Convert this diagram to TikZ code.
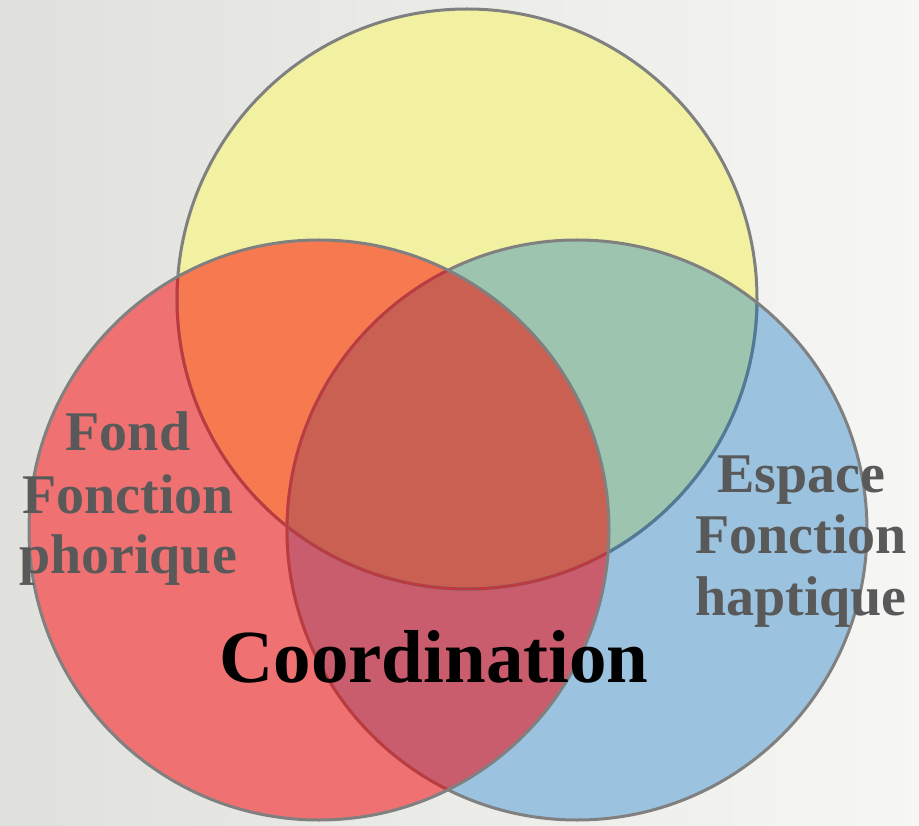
\documentclass[tikz,border=0pt]{standalone}
\usepackage{fontspec}
\setmainfont{Liberation Serif}
\definecolor{bgL}{RGB}{224,224,220}
\definecolor{bgR}{RGB}{246,246,244}
\definecolor{yel}{RGB}{241,241,161}
\definecolor{blu}{RGB}{155,194,222}
\definecolor{red1}{RGB}{240,113,113}
\definecolor{redyel}{RGB}{247,121,80}
\definecolor{yelblu}{RGB}{156,196,174}
\definecolor{redblu}{RGB}{202,93,109}
\definecolor{allthree}{RGB}{202,96,82}
\definecolor{edge}{RGB}{128,128,128}
\definecolor{edgered}{RGB}{190,58,62}
\definecolor{edgeblu}{RGB}{80,122,152}
\definecolor{labelgray}{RGB}{89,89,89}
\tikzset{
  ring/.style={draw=edge, line width=3pt},
  sidelabel/.style={anchor=base, text=labelgray, font=\fontsize{56}{62}\selectfont\bfseries, inner sep=0pt},
  mainlabel/.style={anchor=base, text=black, font=\fontsize{75}{80}\selectfont\bfseries, inner sep=0pt}
}
\begin{document}
\begin{tikzpicture}[x=1pt,y=-1pt]
  \useasboundingbox (0,0) rectangle (919,826);
  \shade[left color=bgL, right color=bgR] (0,0) rectangle (919,826);
  % circle centres
  \coordinate (cy) at (467,299);
  \coordinate (cr) at (319,530);
  \coordinate (cb) at (577,530);
  \def\R{290pt}
  % single fills
  \fill[yel] (cy) circle[radius=\R];
  \fill[blu] (cb) circle[radius=\R];
  \fill[red1] (cr) circle[radius=\R];
  % pairwise overlaps
  \begin{scope}
    \clip (cy) circle[radius=\R];
    \fill[yelblu] (cb) circle[radius=\R];
    \fill[redyel] (cr) circle[radius=\R];
  \end{scope}
  \begin{scope}
    \clip (cb) circle[radius=\R];
    \fill[redblu] (cr) circle[radius=\R];
    \clip (cy) circle[radius=\R];
    \fill[allthree] (cr) circle[radius=\R];
  \end{scope}
  % outlines: yellow
  \draw[ring] (cy) circle[radius=\R];
  \begin{scope}
    \clip (cb) circle[radius=\R];
    \draw[ring, draw=edgeblu] (cy) circle[radius=\R];
  \end{scope}
  \begin{scope}
    \clip (cr) circle[radius=\R];
    \draw[ring, draw=edgered] (cy) circle[radius=\R];
  \end{scope}
  % outlines: blue
  \draw[ring] (cb) circle[radius=\R];
  \begin{scope}
    \clip (cr) circle[radius=\R];
    \draw[ring, draw=edgered] (cb) circle[radius=\R];
  \end{scope}
  % outline: red
  \draw[ring] (cr) circle[radius=\R];
  % labels
  \node[sidelabel] (fond1) at (128,450) {Fond};
  \node[sidelabel] (fond2) at (128,513) {Fonction};
  \node[sidelabel] (fond3) at (128,573) {phorique};
  \node[sidelabel] (esp1) at (801,492) {Espace};
  \node[sidelabel] (esp2) at (801,553) {Fonction};
  \node[sidelabel] (esp3) at (801,615) {haptique};
  \node[mainlabel] (coord) at (434,682) {Coordination};
\end{tikzpicture}
\end{document}
